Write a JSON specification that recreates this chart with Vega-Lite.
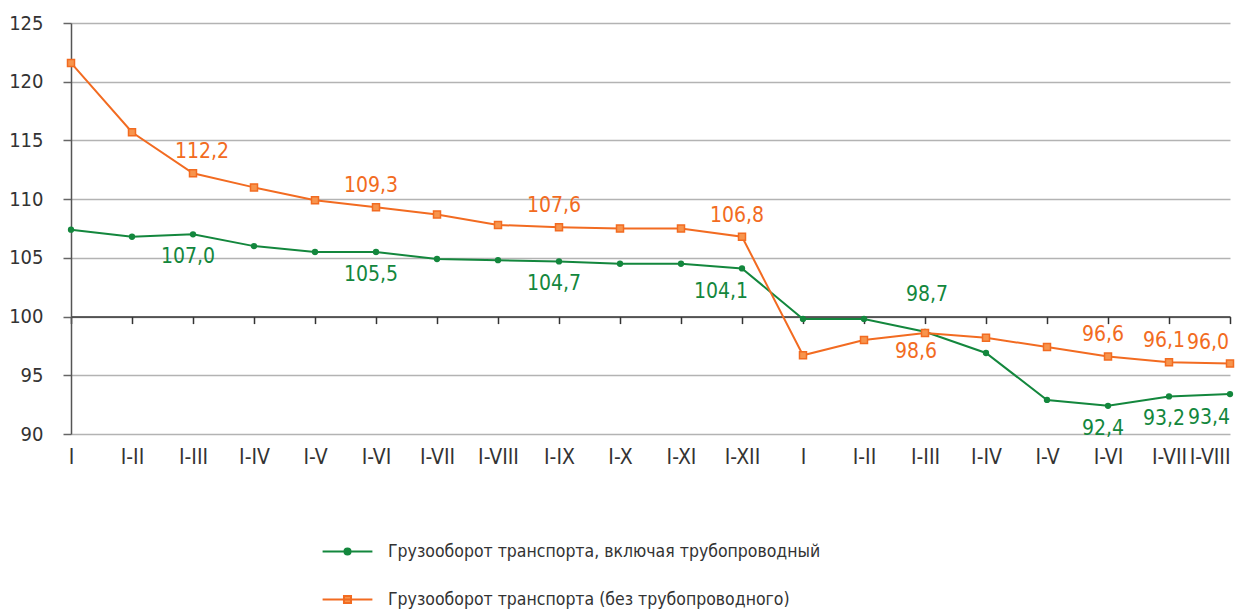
{
  "$schema": "https://vega.github.io/schema/vega-lite/v6.json",
  "width": 1159,
  "height": 411,
  "autosize": {"type": "none"},
  "padding": {"left": 71, "top": 23, "right": 8, "bottom": 178},
  "background": "white",
  "config": {
    "font": "DejaVu Sans Condensed, sans-serif",
    "view": {"stroke": null},
    "locale": {"number": {"decimal": ",", "thousands": " ", "grouping": [3], "currency": ["", ""]}}
  },
  "data": {"values": [
    {"p": "01|I", "s": "Грузооборот транспорта, включая трубопроводный", "v": 107.4},
    {"p": "02|I-II", "s": "Грузооборот транспорта, включая трубопроводный", "v": 106.8},
    {"p": "03|I-III", "s": "Грузооборот транспорта, включая трубопроводный", "v": 107.0},
    {"p": "04|I-IV", "s": "Грузооборот транспорта, включая трубопроводный", "v": 106.0},
    {"p": "05|I-V", "s": "Грузооборот транспорта, включая трубопроводный", "v": 105.5},
    {"p": "06|I-VI", "s": "Грузооборот транспорта, включая трубопроводный", "v": 105.5},
    {"p": "07|I-VII", "s": "Грузооборот транспорта, включая трубопроводный", "v": 104.9},
    {"p": "08|I-VIII", "s": "Грузооборот транспорта, включая трубопроводный", "v": 104.8},
    {"p": "09|I-IX", "s": "Грузооборот транспорта, включая трубопроводный", "v": 104.7},
    {"p": "10|I-X", "s": "Грузооборот транспорта, включая трубопроводный", "v": 104.5},
    {"p": "11|I-XI", "s": "Грузооборот транспорта, включая трубопроводный", "v": 104.5},
    {"p": "12|I-XII", "s": "Грузооборот транспорта, включая трубопроводный", "v": 104.1},
    {"p": "13|I", "s": "Грузооборот транспорта, включая трубопроводный", "v": 99.8},
    {"p": "14|I-II", "s": "Грузооборот транспорта, включая трубопроводный", "v": 99.8},
    {"p": "15|I-III", "s": "Грузооборот транспорта, включая трубопроводный", "v": 98.7},
    {"p": "16|I-IV", "s": "Грузооборот транспорта, включая трубопроводный", "v": 96.9},
    {"p": "17|I-V", "s": "Грузооборот транспорта, включая трубопроводный", "v": 92.9},
    {"p": "18|I-VI", "s": "Грузооборот транспорта, включая трубопроводный", "v": 92.4},
    {"p": "19|I-VII", "s": "Грузооборот транспорта, включая трубопроводный", "v": 93.2},
    {"p": "20|I-VIII", "s": "Грузооборот транспорта, включая трубопроводный", "v": 93.4},
    {"p": "01|I", "s": "Грузооборот транспорта (без трубопроводного)", "v": 121.6},
    {"p": "02|I-II", "s": "Грузооборот транспорта (без трубопроводного)", "v": 115.7},
    {"p": "03|I-III", "s": "Грузооборот транспорта (без трубопроводного)", "v": 112.2},
    {"p": "04|I-IV", "s": "Грузооборот транспорта (без трубопроводного)", "v": 111.0},
    {"p": "05|I-V", "s": "Грузооборот транспорта (без трубопроводного)", "v": 109.9},
    {"p": "06|I-VI", "s": "Грузооборот транспорта (без трубопроводного)", "v": 109.3},
    {"p": "07|I-VII", "s": "Грузооборот транспорта (без трубопроводного)", "v": 108.7},
    {"p": "08|I-VIII", "s": "Грузооборот транспорта (без трубопроводного)", "v": 107.8},
    {"p": "09|I-IX", "s": "Грузооборот транспорта (без трубопроводного)", "v": 107.6},
    {"p": "10|I-X", "s": "Грузооборот транспорта (без трубопроводного)", "v": 107.5},
    {"p": "11|I-XI", "s": "Грузооборот транспорта (без трубопроводного)", "v": 107.5},
    {"p": "12|I-XII", "s": "Грузооборот транспорта (без трубопроводного)", "v": 106.8},
    {"p": "13|I", "s": "Грузооборот транспорта (без трубопроводного)", "v": 96.7},
    {"p": "14|I-II", "s": "Грузооборот транспорта (без трубопроводного)", "v": 98.0},
    {"p": "15|I-III", "s": "Грузооборот транспорта (без трубопроводного)", "v": 98.6},
    {"p": "16|I-IV", "s": "Грузооборот транспорта (без трубопроводного)", "v": 98.2},
    {"p": "17|I-V", "s": "Грузооборот транспорта (без трубопроводного)", "v": 97.4},
    {"p": "18|I-VI", "s": "Грузооборот транспорта (без трубопроводного)", "v": 96.6},
    {"p": "19|I-VII", "s": "Грузооборот транспорта (без трубопроводного)", "v": 96.1},
    {"p": "20|I-VIII", "s": "Грузооборот транспорта (без трубопроводного)", "v": 96.0}
  ]},
  "layer": [
    {
      "mark": {"type": "line", "strokeWidth": 2},
      "encoding": {
        "x": {"field": "p", "type": "ordinal", "sort": "ascending", "scale": {"type": "point", "padding": 0},
          "axis": {"orient": "bottom", "title": null, "domain": false, "ticks": false, "grid": false,
            "labelExpr": "split(datum.label, '|')[1]", "labelAngle": 0, "labelFontSize": 21,
            "labelAlign": {"condition": {"test": "datum.value === '20|I-VIII'", "value": "right"}, "value": "center"},
            "labelColor": "#333333", "labelPadding": 12, "labelBaseline": "top"}},
        "y": {"field": "v", "type": "quantitative", "scale": {"domain": [90, 125], "nice": false, "zero": false},
          "axis": {"title": null, "values": [90, 95, 100, 105, 110, 115, 120, 125], "grid": true,
            "gridColor": "#b3b3b3", "gridWidth": 1.5, "domainColor": "#555555", "domainWidth": 1.5,
            "tickColor": "#666666", "tickSize": 8, "tickWidth": 1.5, "labelFontSize": 20,
            "labelColor": "#333333", "labelPadding": 20}},
        "color": {"field": "s", "type": "nominal",
          "scale": {"domain": ["Грузооборот транспорта, включая трубопроводный", "Грузооборот транспорта (без трубопроводного)"],
            "range": ["#13873d", "#f26b21"]},
          "legend": {"orient": "none", "legendX": 252, "legendY": 504, "direction": "vertical", "title": null,
            "symbolSize": 2209, "symbolStrokeWidth": 2, "labelFontSize": 17.5, "labelColor": "#333333",
            "labelLimit": 1000, "labelOffset": 16, "rowPadding": 15, "padding": 0,
            "encode": {"symbols": {"update": {
              "shape": [
                {"test": "datum.value === 'Грузооборот транспорта, включая трубопроводный'", "value": "M-1.06,0H1.06M-0.13,0A0.13,0.13,0,1,1,0.13,0A0.13,0.13,0,1,1,-0.13,0Z"},
                {"value": "M-1.06,0H1.06M-0.15,-0.15H0.15V0.15H-0.15Z"}
              ],
              "fill": [
                {"test": "datum.value === 'Грузооборот транспорта, включая трубопроводный'", "value": "#13873d"},
                {"value": "#f7944d"}
              ],
              "stroke": [
                {"test": "datum.value === 'Грузооборот транспорта, включая трубопроводный'", "value": "#13873d"},
                {"value": "#f26b21"}
              ],
              "strokeWidth": {"value": 2},
              "opacity": {"value": 1}
            }}}}}
      }
    },
    {
      "transform": [{"filter": {"field": "s", "equal": "Грузооборот транспорта, включая трубопроводный"}}],
      "mark": {"type": "circle", "size": 40, "color": "#13873d", "opacity": 1},
      "encoding": {
        "x": {"field": "p", "type": "ordinal", "sort": "ascending",
          "axis": {"orient": "bottom", "offset": -117.4, "title": null, "labels": false, "ticks": true,
            "tickSize": 7, "tickColor": "#333333", "tickWidth": 1.5, "domain": true,
            "domainColor": "#333333", "domainWidth": 1.5, "grid": false}},
        "y": {"field": "v", "type": "quantitative"}
      }
    },
    {
      "transform": [{"filter": {"field": "s", "equal": "Грузооборот транспорта (без трубопроводного)"}}],
      "mark": {"type": "square", "size": 49, "fill": "#f7944d", "stroke": "#f26b21", "strokeWidth": 1.5, "opacity": 1},
      "encoding": {
        "x": {"field": "p", "type": "ordinal", "sort": "ascending", "axis": null},
        "y": {"field": "v", "type": "quantitative"}
      }
    },
    {
      "transform": [{"filter": {"and": [
        {"field": "s", "equal": "Грузооборот транспорта (без трубопроводного)"},
        {"field": "p", "oneOf": ["06|I-VI", "09|I-IX", "12|I-XII", "18|I-VI", "19|I-VII"]}]}}],
      "mark": {"type": "text", "fontSize": 21, "color": "#f26b21", "dy": -21, "dx": -5, "baseline": "middle"},
      "encoding": {
        "x": {"field": "p", "type": "ordinal", "sort": "ascending", "axis": null},
        "y": {"field": "v", "type": "quantitative"},
        "text": {"field": "v", "type": "quantitative", "format": ".1f"}
      }
    },
    {
      "transform": [{"filter": {"and": [
        {"field": "s", "equal": "Грузооборот транспорта (без трубопроводного)"},
        {"field": "p", "oneOf": ["03|I-III"]}]}}],
      "mark": {"type": "text", "fontSize": 21, "color": "#f26b21", "dy": -21, "dx": 9, "baseline": "middle"},
      "encoding": {
        "x": {"field": "p", "type": "ordinal", "sort": "ascending", "axis": null},
        "y": {"field": "v", "type": "quantitative"},
        "text": {"field": "v", "type": "quantitative", "format": ".1f"}
      }
    },
    {
      "transform": [{"filter": {"and": [
        {"field": "s", "equal": "Грузооборот транспорта (без трубопроводного)"},
        {"field": "p", "oneOf": ["15|I-III"]}]}}],
      "mark": {"type": "text", "fontSize": 21, "color": "#f26b21", "dy": 19, "dx": -9, "baseline": "middle"},
      "encoding": {
        "x": {"field": "p", "type": "ordinal", "sort": "ascending", "axis": null},
        "y": {"field": "v", "type": "quantitative"},
        "text": {"field": "v", "type": "quantitative", "format": ".1f"}
      }
    },
    {
      "transform": [{"filter": {"and": [
        {"field": "s", "equal": "Грузооборот транспорта (без трубопроводного)"},
        {"field": "p", "oneOf": ["20|I-VIII"]}]}}],
      "mark": {"type": "text", "fontSize": 21, "color": "#f26b21", "dy": -21, "dx": -22, "baseline": "middle"},
      "encoding": {
        "x": {"field": "p", "type": "ordinal", "sort": "ascending", "axis": null},
        "y": {"field": "v", "type": "quantitative"},
        "text": {"field": "v", "type": "quantitative", "format": ".1f"}
      }
    },
    {
      "transform": [{"filter": {"and": [
        {"field": "s", "equal": "Грузооборот транспорта, включая трубопроводный"},
        {"field": "p", "oneOf": ["03|I-III", "06|I-VI", "09|I-IX", "18|I-VI", "19|I-VII"]}]}}],
      "mark": {"type": "text", "fontSize": 21, "color": "#13873d", "dy": 23, "dx": -5, "baseline": "middle"},
      "encoding": {
        "x": {"field": "p", "type": "ordinal", "sort": "ascending", "axis": null},
        "y": {"field": "v", "type": "quantitative"},
        "text": {"field": "v", "type": "quantitative", "format": ".1f"}
      }
    },
    {
      "transform": [{"filter": {"and": [
        {"field": "s", "equal": "Грузооборот транспорта, включая трубопроводный"},
        {"field": "p", "oneOf": ["15|I-III"]}]}}],
      "mark": {"type": "text", "fontSize": 21, "color": "#13873d", "dy": -37, "dx": 2, "baseline": "middle"},
      "encoding": {
        "x": {"field": "p", "type": "ordinal", "sort": "ascending", "axis": null},
        "y": {"field": "v", "type": "quantitative"},
        "text": {"field": "v", "type": "quantitative", "format": ".1f"}
      }
    },
    {
      "transform": [{"filter": {"and": [
        {"field": "s", "equal": "Грузооборот транспорта, включая трубопроводный"},
        {"field": "p", "oneOf": ["12|I-XII", "20|I-VIII"]}]}}],
      "mark": {"type": "text", "fontSize": 21, "color": "#13873d", "dy": 24, "dx": -21, "baseline": "middle"},
      "encoding": {
        "x": {"field": "p", "type": "ordinal", "sort": "ascending", "axis": null},
        "y": {"field": "v", "type": "quantitative"},
        "text": {"field": "v", "type": "quantitative", "format": ".1f"}
      }
    }
  ],
  "resolve": {"axis": {"x": "independent"}}
}
